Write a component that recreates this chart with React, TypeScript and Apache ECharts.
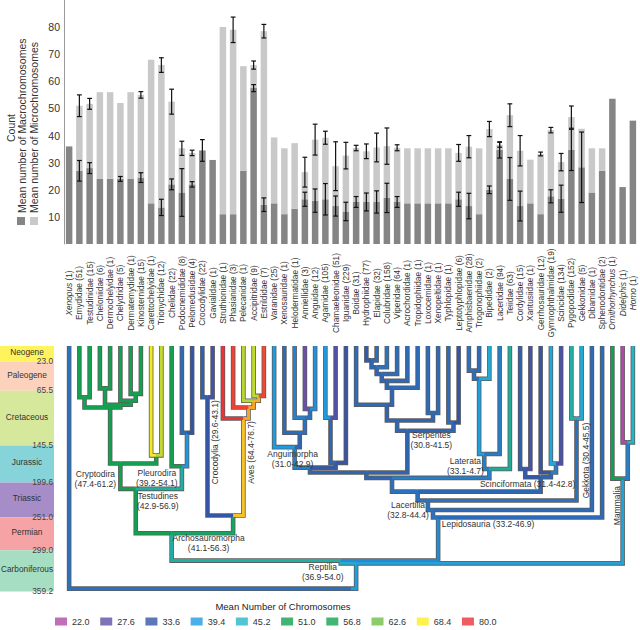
import React, { useEffect, useRef } from 'react';
import * as echarts from 'echarts';

const FONT = '"Liberation Sans", Arial, Helvetica, sans-serif';

// ---------- bar chart data ----------
const taxa = ['Xenopus','Emydidae','Testudinidae','Cheloniidae','Dermochelyidae','Chelydridae','Dermatemydidae','Kinosternidae','Carettochelyidae','Trionychidae','Chelidae','Podocnemididae','Pelomedusidae','Crocodylidae','Gavialidae','Struthionidae','Phasianidae','Pelecanidae','Accipitridae','Estrildidae','Varanidae','Xenosauridae','Helodermatidae','Anniellidae','Anguidae','Agamidae','Chamaeleonidae','Iguanidae','Boidae','Hydrophiidae','Elapidae','Colubridae','Viperidae','Acrochordidae','Tropidophiidae','Loxocemidae','Xenopeltidae','Typhlopidae','Leptotyphlopidae','Amphisbaenidae','Trogonophiidae','Bipedidae','Lacertidae','Teiidae','Cordylidae','Xantusiidae','Gerrhosauridae','Gymnophthalmidae','Scincidae','Pygopodidae','Gekkonidae','Dibamidae','Sphenodontidae','Ornithorhynchus','Didelphis','Homo'];
const speciesCounts = [1,51,15,6,1,5,1,15,1,12,22,8,4,22,1,1,3,1,9,7,25,1,1,3,12,105,51,229,31,77,32,158,64,1,1,1,1,1,6,28,2,2,94,63,15,1,12,19,134,152,5,1,2,1,1,1];
const italicTaxa = ['Xenopus','Ornithorhynchus','Didelphis','Homo'];

const macro = [36,27,28,24,24,24,24,24.5,15,13.5, 22,19,22,34.5,31,11,11,27,57.5,14.5, 15,11,13,16.5,16,16.5,14,12,15.5,15.5, 15.5,17,15.5,15,15,15,15,15,16.5,14, 11,20,34.7,24,14,15,11,17.6,16.7,34.7, 28.3,19,27,53.6,21,45.5];
const micro = [0,24,23.7,32,32,28,32,30.5,53,52.5, 30.5,16.3,11.6,0,0,69,68,38.6,8.5,64, 24.3,24.3,24.2,10,22.5,22.7,14.7,20.6,19.9,18.7, 20.1,19.1,20,20.3,20.3,20.3,20.3,20.3,17.1,21.9, 24.3,22.4,1.9,23.5,20.4,16.1,22.2,24.4,13.5,12.1, 14.2,16.3,8.3,0,0,0];
const macroErr = [0,3.8,2,0,0,0.9,0,1.8,0,3, 2,8.8,1,4,0,0,0,0,1.3,2.5, 0,0,0,2.6,4.3,5.8,3.7,3.4,2,3.3, 4.1,5.4,2,0,0,0,0,0,2.6,4.7, 0,1.4,3,7.9,5.5,0,0,2.4,5,7.6, 13,0,0,0,0,0];
const totalErr = [0,4,2,0,0,0,0,1.2,0,2.7, 4.6,2.6,1,0,0,0,4.7,0,1.5,2.5, 0,0,0,5.5,5.7,2.4,9,4.9,1,2.7, 5.3,6.7,1.1,0,0,0,0,0,3.1,4.1, 0,2.8,0.9,4.2,5.6,0,0.7,1,3.2,4.1, 0,0,0,0,0,0];
const yTicks = [10,20,30,40,50,60,70,80];

// ---------- tree data: [clade, age (Ma), mean chromosome number, children] ----------
const clades: [string, number, number, string[]][] = [
  ['Root', 355, 38, ['Xenopus','Amniota']],
  ['Amniota', 318, 40, ['Reptilia','Mammalia']],
  ['Reptilia', 314, 43, ['Archosauromorpha','Lepidosauria']],
  ['Archosauromorpha', 274, 47, ['Testudines','Archosauria']],
  ['Testudines', 209, 52, ['Cryptodira','Pleurodira']],
  ['Cryptodira', 172, 54, ['Durocryptodira','Trionychia']],
  ['Durocryptodira', 90, 53, ['Testudinoidea','Americhelydia']],
  ['Testudinoidea', 75, 52, ['Emydidae','Testudinidae']],
  ['Americhelydia', 86, 54, ['Chelonioidea','Chelydroidea']],
  ['Chelonioidea', 62, 55, ['Cheloniidae','Dermochelyidae']],
  ['Chelydroidea', 80, 54, ['Chelydridae','Kinosternoidea']],
  ['Kinosternoidea', 70, 55, ['Dermatemydidae','Kinosternidae']],
  ['Trionychia', 160, 56, ['Carettochelyidae','Trionychidae']],
  ['Pleurodira', 176, 47, ['Chelidae','Pelomedusoides']],
  ['Pelomedusoides', 127, 39, ['Podocnemididae','Pelomedusidae']],
  ['Archosauria', 248, 50, ['Crocodylia','Aves']],
  ['Crocodylia', 75, 33, ['Crocodylidae','Gavialidae']],
  ['Aves', 106, 71, ['Struthionidae','Neognathae']],
  ['Neognathae', 90, 73, ['Phasianidae','Neoaves']],
  ['Neoaves', 80, 73, ['Pelecanidae','Passeriformes+']],
  ['Passeriformes+', 73, 72, ['Accipitridae','Estrildidae']],
  ['Lepidosauria', 251, 38, ['Lacertilia','Sphenodontidae']],
  ['Lacertilia', 240, 36, ['Q1','Dibamidae']],
  ['Q1', 226, 36, ['Q2','Gekkota']],
  ['Q2', 213, 36, ['Q3','Scinciformata']],
  ['Q3', 193, 36, ['Q4','Laterata']],
  ['Q4', 185, 35, ['Q5','Serpentes']],
  ['Q5', 178, 35, ['Anguimorpha','Iguania']],
  ['Anguimorpha', 148, 37, ['Varanidae','A1']],
  ['A1', 127, 35, ['Xenosauridae','A2']],
  ['A2', 105, 36, ['Helodermatidae','A3']],
  ['A3', 92, 36, ['Anniellidae','Anguidae']],
  ['Iguania', 171, 34, ['I1','Iguanidae']],
  ['I1', 105, 35, ['Agamidae','Chamaeleonidae']],
  ['Serpentes', 124, 35, ['Sn1','Scolecophidia']],
  ['Sn1', 109, 35, ['Sn2','Sn3']],
  ['Sn2', 86, 35, ['Boidae','C5']],
  ['C5', 61, 35, ['C4','Tropidophiidae']],
  ['C4', 51, 35, ['C3','Acrochordidae']],
  ['C3', 41, 35, ['C2','Viperidae']],
  ['C2', 31, 35, ['C1','Colubridae']],
  ['C1', 21, 35, ['Hydrophiidae','Elapidae']],
  ['Sn3', 98, 35, ['Loxocemidae','Xenopeltidae']],
  ['Scolecophidia', 112, 35, ['Typhlopidae','Leptotyphlopidae']],
  ['Laterata', 180, 37, ['L1','Teiidae']],
  ['L1', 158, 37, ['Amphisbaenia','Lacertidae']],
  ['Amphisbaenia', 48, 40, ['L2','Bipedidae']],
  ['L2', 36, 35.5, ['Amphisbaenidae','Trogonophiidae']],
  ['Scinciformata', 192, 35, ['K1','K2']],
  ['K1', 180, 34, ['Cordylidae','Xantusiidae']],
  ['K2', 185, 35, ['Gerrhosauridae','K3']],
  ['K3', 172, 37, ['Gymnophthalmidae','Scincidae']],
  ['Gekkota', 106, 36, ['Pygopodidae','Gekkonidae']],
  ['Mammalia', 194, 41, ['Ornithorhynchus','Theria']],
  ['Theria', 141, 37, ['Didelphis','Homo']],
];

// clade annotations: [clade, text]
const cladeLabels: [string, string][] = [
  ['Cryptodira', 'Cryptodira\n(47.4-61.2)'],
  ['Pleurodira', 'Pleurodira\n(39.2-54.1)'],
  ['Testudines', 'Testudines\n(42.9-56.9)'],
  ['Archosauromorpha', 'Archosauromorpha\n(41.1-56.3)'],
  ['Reptilia', 'Reptilia\n(36.9-54.0)'],
  ['Crocodylia', 'Crocodylia (29.6-43.1)'],
  ['Aves', 'Aves (64.4-76.7)'],
  ['Anguimorpha', 'Anguimorpha\n(31.0-42.9)'],
  ['Serpentes', 'Serpentes\n(30.8-41.5)'],
  ['Laterata', 'Laterata\n(33.1-4.7)'],
  ['Scinciformata', 'Scinciformata (31.4-42.8)'],
  ['Gekkota', 'Gekkota (30.4-45.5)'],
  ['Lacertilia', 'Lacertilia\n(32.8-44.4)'],
  ['Lepidosauria', 'Lepidosauria (33.2-46.9)'],
  ['Mammalia', 'Mammalia'],
];
// label placement (pixel offsets from node, rotation)
const labelPlacement: Record<string, [number, number, number]> = {
  Cryptodira: [-25, 15, 0], Pleurodira: [-25, 12, 0], Testudines: [22, 12, 0],
  Archosauromorpha: [37, 10, 0], Reptilia: [-18, 11, 0], Crocodylia: [7, 45, 90],
  Aves: [8, 34, 90], Anguimorpha: [-2, 12, 0], Serpentes: [24, 9, 0],
  Laterata: [-24, -3, 0], Scinciformata: [-13, 7, 0], Gekkota: [9, 42, 90],
  Lacertilia: [-25, 0, 0], Lepidosauria: [50, 6, 0], Mammalia: [-6, 27, 90],
};

// ---------- geologic time scale ----------
const periods = ['Neogene','Paleogene','Cretaceous','Jurassic','Triassic','Permian','Carboniferous'];
const periodStarts = [0, 23.0, 65.5, 145.5, 199.6, 251.0, 299.0];
const periodEnds = [23.0, 65.5, 145.5, 199.6, 251.0, 299.0, 359.2];
const periodColors = ['#fff35e','#fcd2bd','#d6e89c','#86d3da','#a78dc8','#f5a3a4','#a6dec3'];

// ---------- colour legend ----------
const legendStops = [22.0, 27.6, 33.6, 39.4, 45.2, 51.0, 56.8, 62.6, 68.4, 80.0];
const legendColors = ['#b04aa5','#5b50a6','#3355a5','#1f9ce1','#26b6c8','#12a150','#13a150','#6dbf46','#fbed21','#ee3237'];

function hexToRgb(h: string) {
  return [parseInt(h.slice(1, 3), 16), parseInt(h.slice(3, 5), 16), parseInt(h.slice(5, 7), 16)];
}
function chromColor(v: number): string {
  if (v <= legendStops[0]) return legendColors[0];
  for (let k = 1; k < legendStops.length; k++) {
    if (v <= legendStops[k]) {
      const t = (v - legendStops[k - 1]) / (legendStops[k] - legendStops[k - 1]);
      const a = hexToRgb(legendColors[k - 1]);
      const b = hexToRgb(legendColors[k]);
      const c = a.map((x, i) => Math.round(x + (b[i] - x) * t));
      return `rgb(${c[0]},${c[1]},${c[2]})`;
    }
  }
  return legendColors[legendColors.length - 1];
}

// ---------- tree layout ----------
type NodeInfo = { x: number; age: number; value: number; tips: number[] };
const cladeMap = new Map(clades.map((c) => [c[0], c]));
const info: Record<string, NodeInfo> = {};
taxa.forEach((t, i) => { info[t] = { x: i, age: 0, value: macro[i] + micro[i], tips: [i] }; });
function resolve(name: string): NodeInfo {
  if (info[name]) return info[name];
  const c = cladeMap.get(name)!;
  const kids = c[3].map(resolve);
  const tips = kids.flatMap((k) => k.tips);
  const x = tips.reduce((a, b) => a + b, 0) / tips.length;
  info[name] = { x, age: c[1], value: c[2], tips };
  return info[name];
}
clades.forEach((c) => resolve(c[0]));
const branchPaths: { coords: number[][]; color: string }[] = [];
clades.forEach((c) => {
  const p = info[c[0]];
  c[3].forEach((k) => {
    const ch = info[k];
    branchPaths.push({ coords: [[ch.x, ch.age], [ch.x, p.age], [p.x, p.age]], color: chromColor(ch.value) });
  });
});

const MACRO_COLOR = '#858585';
const MICRO_COLOR = '#c9c9c9';

function errorSeries(data: number[][]) {
  return {
    type: 'custom',
    xAxisIndex: 0,
    yAxisIndex: 0,
    z: 5,
    silent: true,
    data,
    renderItem: (params: any, api: any) => {
      const x = api.value(0), y = api.value(1), e = api.value(2);
      const hi = api.coord([x, y + e]);
      const lo = api.coord([x, y - e]);
      const w = 2.4;
      const st = { stroke: '#111', lineWidth: 1.2 };
      return {
        type: 'group',
        children: [
          { type: 'line', shape: { x1: hi[0], y1: hi[1], x2: lo[0], y2: lo[1] }, style: st },
          { type: 'line', shape: { x1: hi[0] - w, y1: hi[1], x2: hi[0] + w, y2: hi[1] }, style: st },
          { type: 'line', shape: { x1: lo[0] - w, y1: lo[1], x2: lo[0] + w, y2: lo[1] }, style: st },
        ],
      };
    },
  };
}

function buildOption(): any {
  const categories = taxa.map((t, i) => `${t} (${speciesCounts[i]})`);
  const macroErrData = macro.map((m, i) => [i, m, macroErr[i]]).filter((d) => d[2] > 0);
  const totalErrData = macro.map((m, i) => [i, m + micro[i], totalErr[i]]).filter((d) => d[2] > 0);

  const legendSeries = legendStops.map((v, i) => ({
    type: 'scatter',
    name: v.toFixed(1),
    xAxisIndex: 1,
    yAxisIndex: 1,
    data: [],
    itemStyle: { color: legendColors[i] },
  }));

  return {
    animation: false,
    backgroundColor: '#ffffff',
    textStyle: { fontFamily: FONT },
    grid: [
      { left: 64, width: 574, top: -2, height: 246 },
      { left: 64, width: 574, top: 346, height: 245.5 },
      { left: 0, width: 54, top: 346, height: 245.5 },
    ],
    xAxis: [
      {
        type: 'category',
        gridIndex: 0,
        data: categories,
        axisLine: { show: false },
        axisTick: { show: false },
        axisLabel: {
          interval: 0,
          rotate: 90,
          align: 'center',
          verticalAlign: 'middle',
          margin: 49,
          fontSize: 8.3,
          color: '#333',
          fontFamily: FONT,
          formatter: (val: string, idx: number) =>
            italicTaxa.includes(taxa[idx]) ? `{i|${taxa[idx]}} (${speciesCounts[idx]})` : val,
          rich: { i: { fontStyle: 'italic', fontSize: 8.3, color: '#333', fontFamily: FONT } },
        },
      },
      { type: 'value', gridIndex: 1, min: -0.5, max: 55.5, show: false },
      { type: 'value', gridIndex: 2, min: 0, max: 1, show: false },
    ],
    yAxis: [
      {
        type: 'value',
        gridIndex: 0,
        min: 0,
        max: 90,
        interval: 10,
        axisLine: { show: true, lineStyle: { color: '#9a9a9a', width: 1 } },
        axisTick: { show: false },
        splitLine: { show: false },
        axisLabel: {
          fontSize: 10.5,
          color: '#333',
          margin: 4,
          fontFamily: FONT,
          formatter: (v: number) => (yTicks.includes(v) ? String(v) : ''),
        },
      },
      { type: 'value', gridIndex: 1, min: 0, max: 359.2, inverse: true, show: false },
      { type: 'value', gridIndex: 2, min: 0, max: 359.2, inverse: true, show: false },
    ],
    legend: {
      data: legendStops.map((v) => v.toFixed(1)),
      left: 55,
      top: 617,
      padding: 0,
      orient: 'horizontal',
      icon: 'rect',
      itemWidth: 12,
      itemHeight: 8,
      itemGap: 10.7,
      selectedMode: false,
      textStyle: { fontSize: 9, color: '#333', fontFamily: FONT },
    },
    graphic: [
      { type: 'text', x: 11, y: 128, rotation: Math.PI / 2,
        style: { text: 'Count', fontSize: 10.5, fill: '#333', align: 'center', verticalAlign: 'middle', fontFamily: FONT } },
      { type: 'rect', shape: { x: 17, y: 217, width: 8, height: 8 }, style: { fill: MACRO_COLOR } },
      { type: 'text', x: 21.5, y: 213, rotation: Math.PI / 2,
        style: { text: 'Mean number of Macrochromosomes', fontSize: 10.5, fill: '#333', align: 'left', verticalAlign: 'middle', fontFamily: FONT } },
      { type: 'rect', shape: { x: 30, y: 217, width: 8, height: 8 }, style: { fill: MICRO_COLOR } },
      { type: 'text', x: 34, y: 213, rotation: Math.PI / 2,
        style: { text: 'Mean number of Microchromosomes', fontSize: 10.5, fill: '#333', align: 'left', verticalAlign: 'middle', fontFamily: FONT } },
      { type: 'text', x: 283, y: 606,
        style: { text: 'Mean Number of Chromosomes', fontSize: 9.5, fill: '#222', align: 'center', verticalAlign: 'middle', fontFamily: FONT } },
    ],
    series: [
      {
        type: 'bar', name: 'Mean number of Macrochromosomes', stack: 'chrom',
        xAxisIndex: 0, yAxisIndex: 0, barWidth: 6.5, data: macro,
        itemStyle: { color: MACRO_COLOR }, silent: true,
      },
      {
        type: 'bar', name: 'Mean number of Microchromosomes', stack: 'chrom',
        xAxisIndex: 0, yAxisIndex: 0, barWidth: 6.5, data: micro,
        itemStyle: { color: MICRO_COLOR }, silent: true,
      },
      errorSeries(macroErrData),
      errorSeries(totalErrData),
      {
        type: 'lines', coordinateSystem: 'cartesian2d', xAxisIndex: 1, yAxisIndex: 1,
        polyline: true, silent: true, z: 2,
        lineStyle: { width: 4.6, color: '#5c5c5c', opacity: 1 },
        data: branchPaths.map((b) => ({ coords: b.coords })),
      },
      {
        type: 'lines', coordinateSystem: 'cartesian2d', xAxisIndex: 1, yAxisIndex: 1,
        polyline: true, silent: true, z: 3,
        lineStyle: { width: 3, opacity: 1 },
        data: branchPaths.map((b) => ({ coords: b.coords, lineStyle: { color: b.color, width: 3, opacity: 1 } })),
      },
      {
        type: 'custom', xAxisIndex: 1, yAxisIndex: 1, z: 6, silent: true,
        data: cladeLabels.map((l) => [info[l[0]].x, info[l[0]].age]),
        renderItem: (params: any, api: any) => {
          const l = cladeLabels[params.dataIndex];
          const pl = labelPlacement[l[0]];
          const p = api.coord([api.value(0), api.value(1)]);
          return {
            type: 'text',
            x: p[0] + pl[0],
            y: p[1] + pl[1],
            rotation: (pl[2] * Math.PI) / 180,
            style: {
              text: l[1], x: 0, y: 0, align: 'center', verticalAlign: 'middle',
              fontSize: 8.5, lineHeight: 10, fill: '#333', fontFamily: FONT,
            },
          };
        },
      },
      {
        type: 'custom', xAxisIndex: 2, yAxisIndex: 2, z: 2, silent: true,
        data: periods.map((p, i) => [periodStarts[i], periodEnds[i]]),
        renderItem: (params: any, api: any) => {
          const i = params.dataIndex;
          const p0 = api.coord([0, api.value(0)]);
          const p1 = api.coord([1, api.value(1)]);
          return {
            type: 'group',
            children: [
              { type: 'rect', z2: 0, shape: { x: p0[0], y: p0[1], width: p1[0] - p0[0], height: p1[1] - p0[1] },
                style: { fill: periodColors[i] } },
              { type: 'text', z2: 5,
                style: { text: periods[i], x: (p0[0] + p1[0]) / 2, y: (p0[1] + p1[1]) / 2 - 1.5, align: 'center',
                  verticalAlign: 'middle', fontSize: 8.3, fill: '#333', fontFamily: FONT } },
            ],
          };
        },
      },
      {
        type: 'custom', xAxisIndex: 2, yAxisIndex: 2, z: 4, silent: true,
        data: periods.map((p, i) => [1, periodEnds[i]]),
        renderItem: (params: any, api: any) => {
          const p = api.coord([api.value(0), api.value(1)]);
          return {
            type: 'text',
            style: { text: api.value(1).toFixed(1), x: p[0] - 1, y: p[1] - 0.5, align: 'right',
              verticalAlign: 'middle', fontSize: 8.3, fill: '#444', fontFamily: FONT },
          };
        },
      },
      ...legendSeries,
    ],
  };
}

export default function App() {
  const ref = useRef<HTMLDivElement>(null);
  useEffect(() => {
    if (!ref.current) return;
    const chart = echarts.init(ref.current, null, { renderer: 'svg' });
    chart.setOption(buildOption());
    return () => chart.dispose();
  }, []);
  return <div ref={ref} style={{ position: 'absolute', left: 0, top: 0, width: 640, height: 630 }} />;
}
